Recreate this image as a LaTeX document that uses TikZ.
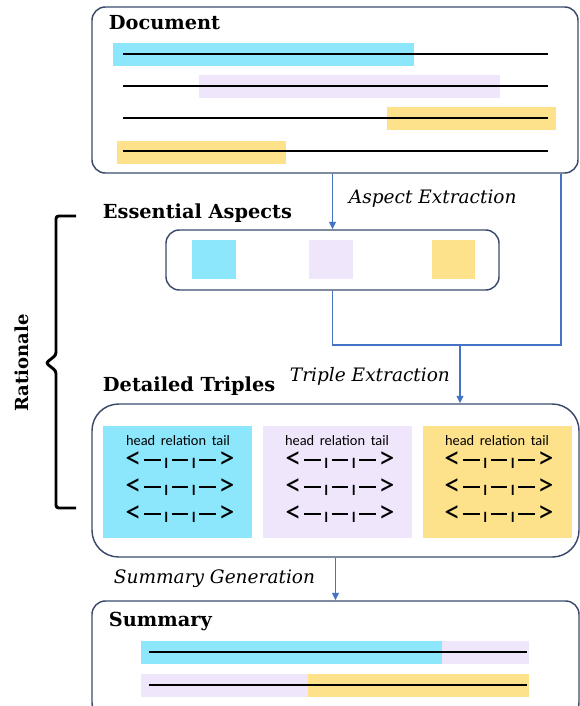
\documentclass[tikz,border=0pt]{standalone}
\usepackage{fontspec}
\setmainfont{DejaVu Serif}
\newfontfamily\calfont{Carlito}
\usetikzlibrary{arrows.meta,fit}

\definecolor{aspcyan}{RGB}{140,230,252}
\definecolor{asplav}{RGB}{239,230,252}
\definecolor{aspyel}{RGB}{253,225,139}
\definecolor{flowblue}{RGB}{68,114,196}
\definecolor{boxline}{RGB}{59,74,107}

\newcommand{\tdash}{\kern2.2pt\rule[5.6pt]{12.5pt}{1.1pt}\kern2.2pt}
\newcommand{\tripleline}{\smash{\fontsize{24}{24}\selectfont<}\tdash ı\tdash ı\tdash\smash{\fontsize{24}{24}\selectfont>}}

\tikzset{every picture/.style={line width=0.75pt}}
\tikzset{
  stage/.style={draw=boxline, line width=1.1pt, rounded corners=10pt, inner sep=0pt},
  mark box/.style={inner sep=0pt},
  flow/.style={draw=flowblue, line width=1.1pt, -{Triangle[length=5.5pt,width=5pt]}},
  link/.style={draw=flowblue, line width=1.1pt},
  stagetitle/.style={anchor=west, font=\bfseries\fontsize{14.5}{16}\selectfont},
  steplabel/.style={anchor=west, font=\itshape\fontsize{13.9}{15}\selectfont},
  tripletext/.style={inner sep=1pt, font=\calfont\fontsize{10.8}{12}\selectfont},
  triplerow/.style={inner sep=0pt, font=\calfont\fontsize{16}{17}\selectfont},
  textline/.style={line width=0.8pt, black}
}

\begin{document}
\begin{tikzpicture}[x=0.75pt,y=0.75pt,yscale=-1,xscale=1]
\useasboundingbox (0,0) rectangle (580,706);

% Document
\node [stage, fit={(92,7) (578,173)}] (doc) {};
\node [stagetitle] (doctitle) at (104,23) {Document};
\path [fill=aspcyan] (113,43) rectangle (414,66);
\path [fill=asplav] (199,75) rectangle (500,98);
\path [fill=aspyel] (387,107) rectangle (556,130);
\path [fill=aspyel] (117,141) rectangle (286,164);
\draw [textline] (123,54) -- (548,54);
\draw [textline] (123,86) -- (548,86);
\draw [textline] (123,118) -- (548,118);
\draw [textline] (123,151) -- (548,151);

% Essential Aspects
\node [stagetitle] (asptitle) at (98,213) {Essential Aspects};
\node [stage, fit={(166,230) (499,290)}] (aspects) {};
\node [mark box, fill=aspcyan, fit={(192,240) (236,279)}] (aspA) {};
\node [mark box, fill=asplav, fit={(309,240) (353,279)}] (aspB) {};
\node [mark box, fill=aspyel, fit={(432,240) (475,279)}] (aspC) {};

% Detailed Triples
\node [stagetitle] (tridtitle) at (98,386) {Detailed Triples};
\node [stage, rounded corners=20pt, fit={(92,404) (579,557)}] (triples) {};
\node [mark box, fill=aspcyan, fit={(103,426) (252,538)}] (triA) {};
\node [mark box, fill=asplav, fit={(263,426) (412,538)}] (triB) {};
\node [mark box, fill=aspyel, fit={(423,426) (572,538)}] (triC) {};
\node [tripletext] at (178,441) {head~\,relation~\,tail};
\node [tripletext] at (337,441) {head~\,relation~\,tail};
\node [tripletext] at (497,441) {head~\,relation~\,tail};
\node [triplerow] at (180,463) {\tripleline};
\node [triplerow] at (180,490) {\tripleline};
\node [triplerow] at (180,517) {\tripleline};
\node [triplerow] at (340,463) {\tripleline};
\node [triplerow] at (340,490) {\tripleline};
\node [triplerow] at (340,517) {\tripleline};
\node [triplerow] at (499,463) {\tripleline};
\node [triplerow] at (499,490) {\tripleline};
\node [triplerow] at (499,517) {\tripleline};

% Summary
\node [stage, fit={(92,601) (579,716)}] (summary) {};
\node [stagetitle] (sumtitle) at (104,621) {Summary};
\path [fill=aspcyan] (141,641) rectangle (442,664);
\path [fill=asplav] (442,641) rectangle (529,664);
\path [fill=asplav] (141,674) rectangle (308,697);
\path [fill=aspyel] (308,674) rectangle (529,697);
\draw [textline] (149,652) -- (527,652);
\draw [textline] (149,685) -- (527,685);

% Connection
\coordinate (merge) at (460,345);
\draw [flow] (doc.south -| aspects.north) -- (aspects.north);
\draw [link] (aspects.south) |- (merge);
\draw [link] (doc.south -| 561,0) |- (merge);
\draw [flow] (merge) -- (triples.north -| merge);
\draw [flow] (triples.south) -- (summary.north);
\node [steplabel] (extA) at (344,199) {Aspect Extraction};
\node [steplabel] (extB) at (285,376) {Triple Extraction};
\node [steplabel] (gen) at (109,579) {Summary Generation};

% Rationale
\draw [line width=2.2pt, rounded corners=2pt] (76,216) -- (56,216) -- (56,355) -- (46,363) -- (56,371) -- (56,508) -- (76,508);
\node [rotate=90, font=\bfseries\fontsize{13.5}{14}\selectfont] (rat) at (22,363) {Rationale};

\end{tikzpicture}
\end{document}
